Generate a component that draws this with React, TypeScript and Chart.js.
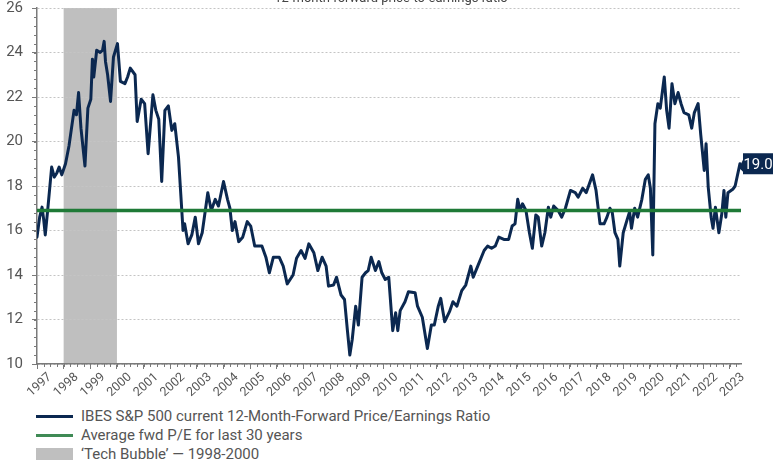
import { useEffect, useRef } from "react";
import { Chart, registerables } from "chart.js";
Chart.register(...registerables);

const TITLE = "12-month forward price-to-earnings ratio";

const peDates = [
  1997.0, 1997.1, 1997.19, 1997.25, 1997.31, 1997.4, 1997.55, 1997.65, 1997.75, 1997.83, 1997.93,
  1998.07, 1998.2, 1998.39, 1998.48, 1998.56, 1998.65, 1998.8, 1998.91,
  1999.02, 1999.08, 1999.13, 1999.24, 1999.37, 1999.46, 1999.52, 1999.57, 1999.65, 1999.76, 1999.87,
  2000.02, 2000.13, 2000.3, 2000.4, 2000.5, 2000.68, 2000.76, 2000.91,
  2001.04, 2001.17, 2001.35, 2001.46, 2001.57, 2001.68, 2001.8, 2001.93,
  2002.06, 2002.17, 2002.31, 2002.48, 2002.54, 2002.67, 2002.81, 2002.94,
  2003.06, 2003.2, 2003.41, 2003.54, 2003.69, 2003.81,
  2004.0, 2004.15, 2004.24, 2004.33, 2004.43, 2004.57, 2004.72, 2004.89,
  2005.02, 2005.17, 2005.44, 2005.59, 2005.72, 2005.87,
  2006.09, 2006.24, 2006.39, 2006.61, 2006.74, 2006.91,
  2007.06, 2007.2, 2007.39, 2007.54, 2007.7, 2007.85, 2007.94,
  2008.13, 2008.24, 2008.41, 2008.54, 2008.65, 2008.74, 2008.83, 2008.96,
  2009.06, 2009.2, 2009.33, 2009.43, 2009.54, 2009.7, 2009.83, 2009.94,
  2010.07, 2010.2, 2010.35, 2010.46, 2010.54, 2010.63, 2010.81, 2010.94,
  2011.19, 2011.28, 2011.46, 2011.65, 2011.8, 2011.91,
  2012.06, 2012.15, 2012.3, 2012.48, 2012.61, 2012.76, 2012.94,
  2013.09, 2013.28, 2013.37, 2013.54, 2013.78, 2013.91,
  2014.06, 2014.2, 2014.33, 2014.52, 2014.7, 2014.83, 2014.94,
  2015.04, 2015.13, 2015.22, 2015.35, 2015.48, 2015.59, 2015.72, 2015.81, 2015.94,
  2016.06, 2016.19, 2016.28, 2016.39, 2016.56, 2016.69, 2016.83,
  2017.02, 2017.2, 2017.31, 2017.48, 2017.61, 2017.85, 2017.98,
  2018.13, 2018.28, 2018.39, 2018.5, 2018.59, 2018.69, 2018.8, 2018.87,
  2019.0, 2019.15, 2019.24, 2019.31, 2019.43, 2019.54, 2019.7, 2019.83, 2019.94,
  2020.02, 2020.11, 2020.19, 2020.3, 2020.39, 2020.54, 2020.63, 2020.72, 2020.83, 2020.94,
  2021.06, 2021.17, 2021.28, 2021.46, 2021.57, 2021.67, 2021.81, 2021.91,
  2022.04, 2022.11, 2022.19, 2022.3, 2022.37, 2022.46, 2022.59, 2022.7, 2022.78, 2022.85, 2022.93,
  2023.11, 2023.2, 2023.38,
];

const peValues = [
  15.7, 16.6, 17.05, 16.5, 15.8, 16.9, 18.85, 18.4, 18.6, 18.85, 18.5,
  19.0, 19.8, 21.4, 21.2, 22.2, 20.6, 18.9, 21.5,
  21.9, 23.7, 22.9, 24.1, 24.0, 24.1, 24.5, 23.6, 23.0, 21.8, 23.8,
  24.4, 22.7, 22.6, 22.9, 23.3, 23.0, 20.9, 21.9,
  21.7, 19.45, 22.1, 21.4, 21.0, 18.2, 21.4, 21.6,
  20.5, 20.8, 19.3, 16.0, 16.3, 15.4, 15.8, 16.6,
  15.4, 15.9, 17.7, 16.9, 17.4, 17.1,
  18.2, 17.4, 17.0, 16.0, 16.4, 15.5, 15.7, 16.4,
  16.2, 15.3, 15.3, 14.8, 14.1, 14.8,
  14.8, 14.4, 13.6, 14.0, 14.75, 15.1,
  14.75, 15.4, 15.0, 14.2, 14.8, 14.4, 13.5,
  13.55, 13.9, 13.1, 12.9, 11.5, 10.4, 11.1, 12.6,
  11.75, 13.9, 14.1, 14.2, 14.8, 14.2, 14.6, 14.1,
  13.8, 13.9, 11.5, 12.3, 11.5, 12.4, 12.8, 13.25,
  13.2, 12.6, 12.1, 10.7, 11.75, 11.75,
  12.6, 12.95, 11.9, 12.35, 12.8, 12.6, 13.3,
  13.55, 14.4, 13.9, 14.4, 15.1, 15.3,
  15.2, 15.3, 15.7, 15.6, 15.6, 16.2, 16.3,
  17.4, 16.9, 17.2, 16.9, 15.9, 15.2, 16.7, 16.6, 15.3,
  15.9, 17.05, 16.6, 17.1, 16.9, 16.6, 17.0,
  17.8, 17.7, 17.5, 17.9, 17.7, 18.5, 17.8,
  16.3, 16.3, 16.6, 17.0, 16.8, 15.9, 15.6, 14.4,
  15.9, 16.5, 16.85, 16.1, 17.0, 16.6, 17.4, 18.3, 18.5,
  17.9, 14.9, 20.8, 21.7, 21.5, 22.9, 21.4, 20.6, 22.6, 21.7,
  22.2, 21.7, 21.3, 21.2, 20.6, 21.3, 21.7, 20.3,
  18.7, 19.9, 17.95, 16.6, 16.1, 17.05, 15.9, 16.75, 17.8, 16.6, 17.7,
  17.85, 18.0, 19.0,
];

const avgPE = 16.9;
const bubbleStart = 1998;
const bubbleEnd = 2000;
const xMin = 1997;
const xMax = 2023.42;
const yearTicks = [
  1997, 1998, 1999, 2000, 2001, 2002, 2003, 2004, 2005, 2006, 2007, 2008, 2009,
  2010, 2011, 2012, 2013, 2014, 2015, 2016, 2017, 2018, 2019, 2020, 2021, 2022, 2023,
];
const yTicks = [10, 12, 14, 16, 18, 20, 22, 24, 26];
const latestLabel = "19.0";
const legendLabels = [
  "IBES S&P 500 current 12-Month-Forward Price/Earnings Ratio",
  "Average fwd P/E for last 30 years",
  "\u2018Tech Bubble\u2019 \u2014 1998-2000",
];

const NAVY = "#0b2850";
const GREEN = "#1f7a37";
const BAND = "#bfbfbf";
const TEXT = "#555555";
const AXIS = "#7a7a7a";
const FONT = "Roboto, 'Liberation Sans', Arial, sans-serif";

export default function App() {
  const ref = useRef<HTMLCanvasElement>(null);

  useEffect(() => {
    const canvas = ref.current;
    if (!canvas) return;

    const extras = {
      id: "extras",
      beforeDraw(chart: any) {
        const { ctx, chartArea, scales } = chart;
        const x = scales.x;
        const x0 = x.getPixelForValue(bubbleStart);
        const x1 = x.getPixelForValue(bubbleEnd);
        ctx.save();
        ctx.fillStyle = BAND;
        ctx.fillRect(x0, chartArea.top, x1 - x0, chartArea.bottom - chartArea.top);
        ctx.restore();
      },
      afterDraw(chart: any) {
        const { ctx, chartArea, scales } = chart;
        const x = scales.x;
        const y = scales.y;
        ctx.save();
        ctx.strokeStyle = AXIS;
        ctx.lineWidth = 1;
        ctx.beginPath();
        for (let i = 0; i <= 40; i++) {
          const v = 10 + i * 0.4;
          const py = Math.round(y.getPixelForValue(v)) + 0.5;
          ctx.moveTo(chartArea.left - 3, py);
          ctx.lineTo(chartArea.left, py);
        }
        for (let q = 0; q <= (xMax - xMin) * 4; q++) {
          const v = xMin + q * 0.25;
          if (v > xMax) break;
          const px = Math.round(x.getPixelForValue(v)) + 0.5;
          ctx.moveTo(px, chartArea.bottom);
          ctx.lineTo(px, chartArea.bottom + 3);
        }
        ctx.stroke();

        ctx.fillStyle = "#444";
        ctx.font = `13px ${FONT}`;
        ctx.textAlign = "center";
        ctx.textBaseline = "alphabetic";
        ctx.fillText(TITLE, 391, 2);

        const lastX = peDates[peDates.length - 1];
        const lastY = peValues[peValues.length - 1];
        const py = y.getPixelForValue(lastY);
        const px = x.getPixelForValue(lastX);
        const bx = chartArea.right + 2;
        const bw = 30;
        const bh = 21;
        ctx.fillStyle = NAVY;
        ctx.beginPath();
        ctx.moveTo(px - 1, py + 4);
        ctx.lineTo(bx, py - 4);
        ctx.lineTo(bx, py + 8);
        ctx.closePath();
        ctx.fill();
        ctx.fillRect(bx, py - bh / 2, bw, bh);
        ctx.fillStyle = "#ffffff";
        ctx.font = `15px ${FONT}`;
        ctx.textAlign = "center";
        ctx.textBaseline = "middle";
        ctx.fillText(latestLabel, bx + bw / 2, py + 1);
        ctx.restore();
      },
    };

    const chart = new Chart(canvas, {
      type: "line",
      data: {
        datasets: [
          {
            label: legendLabels[1],
            data: [
              { x: xMin, y: avgPE },
              { x: xMax, y: avgPE },
            ],
            borderColor: GREEN,
            borderWidth: 3.5,
            pointRadius: 0,
            tension: 0,
          },
          {
            label: legendLabels[0],
            data: peDates.map((d, i) => ({ x: d, y: peValues[i] })),
            borderColor: NAVY,
            borderWidth: 3,
            pointRadius: 0,
            tension: 0,
            borderJoinStyle: "round",
            borderCapStyle: "round",
          },
        ],
      },
      options: {
        responsive: false,
        animation: false,
        devicePixelRatio: 1,
        layout: { padding: { top: 8, right: 34, left: 0, bottom: 0 } },
        plugins: { legend: { display: false }, tooltip: { enabled: false }, title: { display: false } },
        scales: {
          x: {
            type: "linear",
            min: xMin,
            max: xMax,
            afterFit: (s: any) => {
              s.height = 36;
              s.paddingLeft = 0;
              s.paddingRight = 0;
            },
            afterBuildTicks: (s: any) => {
              s.ticks = yearTicks.map((v) => ({ value: v }));
            },
            ticks: {
              autoSkip: false,
              maxRotation: 42,
              minRotation: 42,
              labelOffset: 13,
              padding: 1,
              color: TEXT,
              font: { family: FONT, size: 12.5 },
              callback: (v: any) => String(v),
            },
            grid: { drawOnChartArea: false, tickLength: 5, color: AXIS },
            border: { color: AXIS, width: 1.5 },
          },
          y: {
            min: 10,
            max: 26,
            afterFit: (s: any) => {
              s.width = 37;
              s.paddingTop = 0;
              s.paddingBottom = 0;
            },
            afterBuildTicks: (s: any) => {
              s.ticks = yTicks.map((v) => ({ value: v }));
            },
            ticks: {
              color: TEXT,
              font: { family: FONT, size: 15 },
              padding: 9,
            },
            grid: { color: "#c4c4c4", tickColor: AXIS, tickLength: 5, lineWidth: 1 },
            border: { color: AXIS, width: 1.5, dash: [2, 2] },
          },
        },
      },
      plugins: [extras],
    } as any);

    return () => chart.destroy();
  }, []);

  const swatch = (i: number) => {
    if (i === 0) return { background: NAVY, height: 3 };
    if (i === 1) return { background: "#3f8a55", height: 3 };
    return { background: BAND, height: 12 };
  };
  const rowY = [416, 435, 454];

  return (
    <div style={{ position: "absolute", left: 0, top: 0, width: 775, height: 461, background: "#fff" }}>
      <canvas ref={ref} width={775} height={400} style={{ display: "block" }} />
      {legendLabels.map((t, i) => (
        <div key={i}>
          <div
            style={{
              position: "absolute",
              left: 36,
              width: 37,
              top: rowY[i] - swatch(i).height / 2,
              height: swatch(i).height,
              background: swatch(i).background,
            }}
          />
          <div
            style={{
              position: "absolute",
              left: 81,
              top: rowY[i] - 10,
              height: 20,
              lineHeight: "20px",
              fontFamily: FONT,
              fontSize: 15,
              color: TEXT,
              whiteSpace: "nowrap",
            }}
          >
            {t}
          </div>
        </div>
      ))}
    </div>
  );
}
